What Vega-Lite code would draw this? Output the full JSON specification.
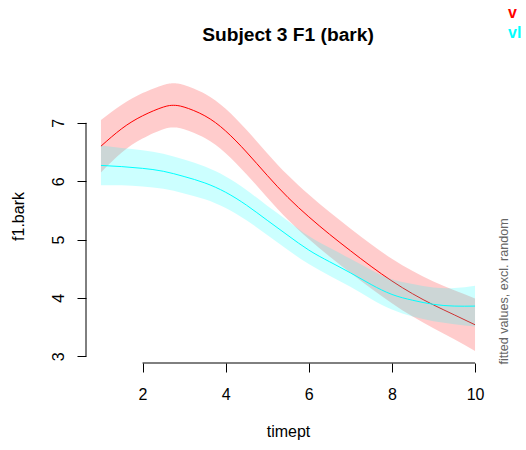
{
  "$schema": "https://vega.github.io/schema/vega-lite/v6.json",
  "width": 404,
  "height": 293,
  "autosize": "none",
  "padding": {"left": 86, "top": 70, "right": 36, "bottom": 87},
  "background": "white",
  "config": {"view": {"stroke": null}, "font": "Liberation Sans"},
  "title": {"text": "Subject 3 F1 (bark)", "fontSize": 19.2, "fontWeight": "bold", "color": "black", "font": "Liberation Sans", "anchor": "middle", "frame": "group", "baseline": "alphabetic", "offset": 0, "dy": 55},
  "data": {"values": [
    {"group": "v", "timept": 1, "fit": 6.60, "lower": 6.15, "upper": 7.05},
    {"group": "v", "timept": 1.5, "fit": 6.90, "lower": 6.49, "upper": 7.31},
    {"group": "v", "timept": 2, "fit": 7.12, "lower": 6.73, "upper": 7.51},
    {"group": "v", "timept": 2.5, "fit": 7.27, "lower": 6.89, "upper": 7.65},
    {"group": "v", "timept": 2.75, "fit": 7.30, "lower": 6.92, "upper": 7.68},
    {"group": "v", "timept": 3, "fit": 7.27, "lower": 6.89, "upper": 7.65},
    {"group": "v", "timept": 3.5, "fit": 7.12, "lower": 6.74, "upper": 7.50},
    {"group": "v", "timept": 4, "fit": 6.86, "lower": 6.48, "upper": 7.24},
    {"group": "v", "timept": 4.5, "fit": 6.50, "lower": 6.12, "upper": 6.88},
    {"group": "v", "timept": 5, "fit": 6.10, "lower": 5.72, "upper": 6.48},
    {"group": "v", "timept": 5.5, "fit": 5.72, "lower": 5.34, "upper": 6.10},
    {"group": "v", "timept": 6, "fit": 5.39, "lower": 5.01, "upper": 5.77},
    {"group": "v", "timept": 6.5, "fit": 5.09, "lower": 4.71, "upper": 5.47},
    {"group": "v", "timept": 7, "fit": 4.81, "lower": 4.43, "upper": 5.19},
    {"group": "v", "timept": 7.5, "fit": 4.54, "lower": 4.16, "upper": 4.92},
    {"group": "v", "timept": 8, "fit": 4.29, "lower": 3.91, "upper": 4.67},
    {"group": "v", "timept": 8.5, "fit": 4.07, "lower": 3.68, "upper": 4.46},
    {"group": "v", "timept": 9, "fit": 3.88, "lower": 3.48, "upper": 4.28},
    {"group": "v", "timept": 9.5, "fit": 3.71, "lower": 3.29, "upper": 4.13},
    {"group": "v", "timept": 10, "fit": 3.54, "lower": 3.09, "upper": 3.99},
    {"group": "vl", "timept": 1, "fit": 6.27, "lower": 5.93, "upper": 6.61},
    {"group": "vl", "timept": 1.5, "fit": 6.25, "lower": 5.93, "upper": 6.57},
    {"group": "vl", "timept": 2, "fit": 6.22, "lower": 5.91, "upper": 6.53},
    {"group": "vl", "timept": 2.5, "fit": 6.17, "lower": 5.87, "upper": 6.47},
    {"group": "vl", "timept": 3, "fit": 6.08, "lower": 5.79, "upper": 6.37},
    {"group": "vl", "timept": 3.5, "fit": 5.97, "lower": 5.69, "upper": 6.25},
    {"group": "vl", "timept": 4, "fit": 5.81, "lower": 5.54, "upper": 6.08},
    {"group": "vl", "timept": 4.5, "fit": 5.59, "lower": 5.33, "upper": 5.85},
    {"group": "vl", "timept": 5, "fit": 5.33, "lower": 5.08, "upper": 5.58},
    {"group": "vl", "timept": 5.5, "fit": 5.07, "lower": 4.82, "upper": 5.32},
    {"group": "vl", "timept": 6, "fit": 4.82, "lower": 4.58, "upper": 5.06},
    {"group": "vl", "timept": 6.5, "fit": 4.62, "lower": 4.38, "upper": 4.86},
    {"group": "vl", "timept": 7, "fit": 4.43, "lower": 4.19, "upper": 4.67},
    {"group": "vl", "timept": 7.5, "fit": 4.23, "lower": 3.98, "upper": 4.48},
    {"group": "vl", "timept": 8, "fit": 4.06, "lower": 3.80, "upper": 4.32},
    {"group": "vl", "timept": 8.5, "fit": 3.96, "lower": 3.68, "upper": 4.24},
    {"group": "vl", "timept": 9, "fit": 3.89, "lower": 3.60, "upper": 4.18},
    {"group": "vl", "timept": 9.5, "fit": 3.86, "lower": 3.55, "upper": 4.17},
    {"group": "vl", "timept": 10, "fit": 3.86, "lower": 3.51, "upper": 4.21}
  ]},
  "resolve": {"scale": {"y": "independent"}},
  "layer": [
    {
      "encoding": {
        "x": {"field": "timept", "type": "quantitative",
          "scale": {"domain": [0.64, 10.36], "nice": false, "zero": false},
          "axis": {"values": [2, 4, 6, 8, 10], "domain": false, "grid": false, "tickSize": 9, "tickColor": "black", "tickWidth": 1,
            "labelFontSize": 16, "labelColor": "black", "labelPadding": 14, "labelFlush": false, "labelOverlap": false, "labelFont": "Liberation Sans",
            "title": "timept", "titleFontSize": 16, "titleFontWeight": "normal", "titleColor": "black", "titleFont": "Liberation Sans",
            "titleX": 202, "titleY": 73, "titleBaseline": "alphabetic", "titleAlign": "center"}}
      },
      "layer": [
        {
          "transform": [{"filter": "datum.group == 'v'"}],
          "mark": {"type": "area", "fillOpacity": 0.2, "strokeWidth": 0, "interpolate": "natural"},
          "encoding": {
            "y": {"field": "lower", "type": "quantitative",
              "scale": {"domain": [2.885, 7.905], "nice": false, "zero": false},
              "axis": {"values": [3, 4, 5, 6, 7], "format": "d", "domain": false, "grid": false, "tickSize": 9, "tickColor": "black", "tickWidth": 1,
                "labelFontSize": 16, "labelColor": "black", "labelAngle": -90, "labelAlign": "center", "labelBaseline": "alphabetic", "labelPadding": 14, "labelFlush": false, "labelOverlap": false, "labelFont": "Liberation Sans",
                "title": "f1.bark", "titleFontSize": 16, "titleFontWeight": "normal", "titleColor": "black", "titleFont": "Liberation Sans",
                "titleAngle": -90, "titleX": -63, "titleY": 146, "titleBaseline": "alphabetic", "titleAlign": "center"}},
            "y2": {"field": "upper"},
            "color": {"field": "group", "type": "nominal",
              "scale": {"domain": ["v", "vl"], "range": ["#ff0000", "#00ffff"]},
              "legend": {"orient": "none", "legendX": 406, "legendY": -65, "title": null,
                "symbolSize": 0, "symbolOpacity": 0, "symbolStrokeWidth": 0, "labelOffset": 0,
                "labelFontSize": 16, "labelFontWeight": "bold", "labelFont": "Liberation Sans", "rowPadding": 4, "padding": 0,
                "encode": {"labels": {"update": {"fill": {"scale": "color", "field": "value"}}}}}}
          }
        },
        {
          "transform": [{"filter": "datum.group == 'v'"}],
          "mark": {"type": "line", "strokeWidth": 1, "interpolate": "natural"},
          "encoding": {
            "y": {"field": "fit", "type": "quantitative"},
            "color": {"field": "group", "type": "nominal"}
          }
        },
        {
          "transform": [{"filter": "datum.group == 'vl'"}],
          "mark": {"type": "area", "fillOpacity": 0.2, "strokeWidth": 0, "interpolate": "natural"},
          "encoding": {
            "y": {"field": "lower", "type": "quantitative"},
            "y2": {"field": "upper"},
            "color": {"field": "group", "type": "nominal"}
          }
        }
      ]
    },
    {
      "transform": [{"filter": "datum.group == 'vl'"}],
      "mark": {"type": "line", "strokeWidth": 1, "interpolate": "natural"},
      "encoding": {
        "x": {"field": "timept", "type": "quantitative"},
        "y": {"field": "fit", "type": "quantitative",
          "scale": {"domain": [2.885, 7.905], "nice": false, "zero": false},
          "axis": {"orient": "right", "labels": false, "ticks": false, "domain": false, "grid": false,
            "title": "fitted values, excl. random", "titleAngle": -90, "titleAlign": "left", "titleBaseline": "alphabetic",
            "titleX": 17, "titleY": 294, "titleFontSize": 12.6, "titleFontWeight": "normal", "titleColor": "#666666", "titleFont": "Liberation Sans"}},
        "color": {"field": "group", "type": "nominal"}
      }
    },
    {
      "data": {"values": [{"line": "x axis"}]},
      "mark": {"type": "rule", "stroke": "black", "strokeWidth": 1},
      "encoding": {
        "x": {"datum": 2, "type": "quantitative"},
        "x2": {"datum": 10},
        "y": {"datum": 2.885, "type": "quantitative", "scale": {"domain": [2.885, 7.905], "nice": false, "zero": false}, "axis": null}
      }
    },
    {
      "data": {"values": [{"line": "y axis"}]},
      "mark": {"type": "rule", "stroke": "black", "strokeWidth": 1},
      "encoding": {
        "x": {"datum": 0.64, "type": "quantitative"},
        "y": {"datum": 3, "type": "quantitative", "scale": {"domain": [2.885, 7.905], "nice": false, "zero": false}, "axis": null},
        "y2": {"datum": 7}
      }
    }
  ]
}
